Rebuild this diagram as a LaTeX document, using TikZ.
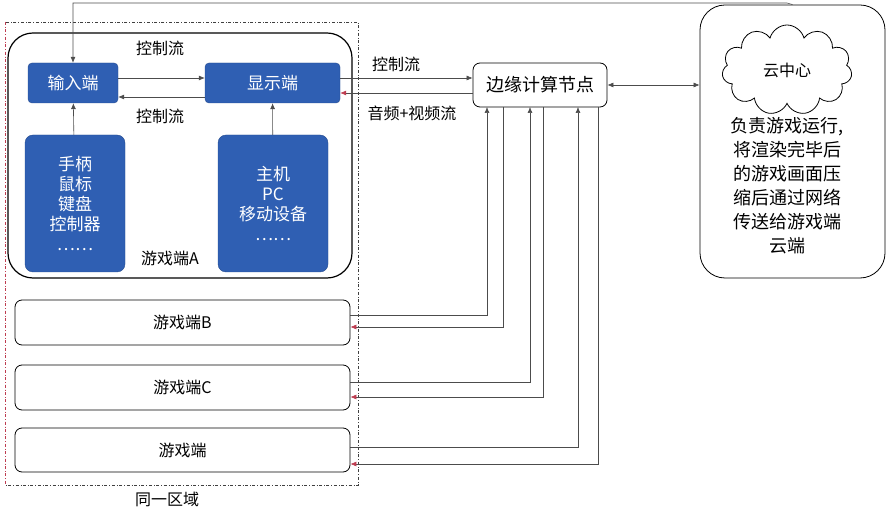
\documentclass[tikz,border=0pt]{standalone}
\usepackage{fontspec}
\setmainfont{Noto Sans CJK SC}
\usetikzlibrary{shapes.symbols}
\usetikzlibrary{arrows.meta}
\usetikzlibrary{positioning}
\definecolor{blk}{RGB}{47,95,179}
\definecolor{redline}{RGB}{190,60,80}
\tikzset{
    bluebox/.style={fill=blk, draw=blk!80!black, rounded corners=4pt, text=white, font=\fontsize{17}{20}\selectfont},
    whitebox/.style={draw=black, thick, rounded corners=7pt, font=\fontsize{16}{19}\selectfont},
    flow/.style={draw=gray!60!black, semithick, -{Latex[length=6pt,width=5pt]}},
    back/.style={draw=gray!60!black, semithick, -{Latex[length=6pt,width=5pt,color=redline]}},
    lbl/.style={font=\fontsize{16}{19}\selectfont}
}
\begin{document}
\begin{tikzpicture}[x=1pt,y=-1pt]
        \useasboundingbox (0,0) rectangle (893,510);
        %region
        \draw[gray!50!black, dash dot, thick] (5,22) rectangle (358,485);
        \draw[redline, dash dot, thick] (5,22) -- (5,485);
        \node[lbl] (reg) at (167,499) {同一区域};

        %game A
        \node[whitebox, very thick, rounded corners=25pt, minimum width=344pt, minimum height=245pt] (ga) at (180,155.5) {};
        \node[bluebox, minimum width=90pt, minimum height=40pt] (inp) at (73,83) {输入端};
        \node[bluebox, minimum width=135pt, minimum height=40pt] (disp) at (272.5,83) {显示端};
        \node[bluebox, rounded corners=8pt, minimum width=100pt, minimum height=137pt, align=center] (dev) at (75,203.5) {手柄\\鼠标\\键盘\\控制器\\……};
        \node[bluebox, rounded corners=8pt, minimum width=110pt, minimum height=137pt, align=center] (host) at (273,203.5) {主机\\PC\\移动设备\\……};
        \node[lbl] (gal) at (170,258) {游戏端A};
        \node[lbl] (c1) at (160,48) {控制流};
        \node[lbl] (c2) at (160,116) {控制流};
        \draw[flow] ([yshift=5pt] inp.east) -- ([yshift=5pt] disp.west);
        \draw[flow] ([yshift=-14pt] disp.west) -- ([yshift=-14pt] inp.east);
        \draw[flow] (dev) -- (inp);
        \draw[flow] (host) -- (disp);

        %game B C D
        \node[whitebox, minimum width=335pt, minimum height=45pt] (gb) at (182.5,322.5) {游戏端B};
        \node[whitebox, minimum width=335pt, minimum height=45pt] (gc) at (182.5,387.5) {游戏端C};
        \node[whitebox, minimum width=335pt, minimum height=44pt] (gd) at (182.5,450) {游戏端};

        %edge and cloud
        \node[whitebox, minimum width=134pt, minimum height=44pt, font=\fontsize{18}{21}\selectfont] (edge) at (540,85) {边缘计算节点};
        \node[whitebox, rounded corners=25pt, minimum width=185pt, minimum height=273pt] (cc) at (792.5,141.5) {};
        \node[cloud, draw=black, thick, aspect=1.5, minimum width=130pt, minimum height=90pt, cloud puffs=11, lbl] (cloud) at (787,70) {云中心};
        \node[lbl, align=center, below=10pt of cloud, font=\fontsize{18}{24}\selectfont] (desc) {负责游戏运行,\\将渲染完毕后\\的游戏画面压\\缩后通过网络\\传送给游戏端\\云端};

        \draw[flow] (disp.east |- 0,78) -- (edge.west |- 0,78);
        \draw[back] (edge.west |- 0,93) -- (disp.east |- 0,93);
        \node[lbl] (c3) at (396,64) {控制流};
        \node[lbl] (av) at (412,113) {音频+视频流};
        \draw[draw=gray!60!black, semithick, {Latex[length=6pt,width=5pt]}-{Latex[length=6pt,width=5pt]}] (edge.east) -- (cc.west |- edge.east);
        \draw[flow] (cc.north) -- (787,3) -- (73,3) -- (inp.north);

        \draw[flow] (gb.east |- 0,315) -| (487,107);
        \draw[back] (503,107) |- (gb.east |- 0,327);
        \draw[flow] (gc.east |- 0,382) -| (530,107);
        \draw[back] (543,107) |- (gc.east |- 0,397);
        \draw[flow] (gd.east |- 0,447) -| (578,107);
        \draw[back] (598,107) |- (gd.east |- 0,464);
    \end{tikzpicture}
\end{document}
